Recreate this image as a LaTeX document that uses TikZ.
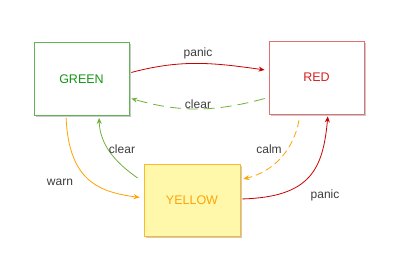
\documentclass[tikz,border=0pt]{standalone}
\usepackage{fontspec}
\setmainfont{Liberation Sans}
\usetikzlibrary{arrows.meta, shadows}

\definecolor{greenline}{RGB}{100,178,88}
\definecolor{greentext}{RGB}{20,150,20}
\definecolor{greenarrow}{RGB}{112,176,60}
\definecolor{redline}{RGB}{226,112,112}
\definecolor{redtext}{RGB}{214,32,32}
\definecolor{redarrow}{RGB}{200,0,0}
\definecolor{yellowfill}{RGB}{255,248,170}
\definecolor{yellowline}{RGB}{250,186,44}
\definecolor{orangetext}{RGB}{252,165,10}
\definecolor{orangearrow}{RGB}{255,162,0}
\definecolor{labelgray}{RGB}{60,60,60}

\begin{document}
\begin{tikzpicture}[
    x=1pt, y=1pt,
    state/.style={rectangle, draw, line width=0.8pt, minimum width=95pt, minimum height=73pt,
        font=\fontsize{12.5}{14}\selectfont,
        drop shadow={shadow xshift=2pt, shadow yshift=-2pt, fill=black!35, opacity=0.6}},
    trans/.style={line width=0.8pt, -{Stealth[length=6pt, width=5pt]}},
    translabel/.style={font=\fontsize{12}{14}\selectfont, text=labelgray}
]
    \useasboundingbox (0,0) rectangle (400,275);

    % --- States ---
    \node[state, draw=greenline, fill=white, text=greentext] (green) at (81.5,196) {GREEN};
    \node[state, draw=redline, fill=white, text=redtext] (red) at (316.5,197.5) {RED};
    \node[state, draw=yellowline, fill=yellowfill, text=orangetext, minimum width=96pt, minimum height=72pt] (yellow) at (192,75) {YELLOW};

    % --- Transitions between GREEN and RED ---
    \draw[trans, redarrow, shorten >=4pt, shorten <=2pt]
        ([yshift=6pt]green.east) to[out=15, in=172] ([yshift=7pt]red.west);
    \draw[trans, greenarrow, dash pattern=on 11pt off 6pt, shorten >=2pt, shorten <=4pt]
        ([yshift=-20pt]red.west) to[out=195, in=-16] ([yshift=-19pt]green.east);
    \node[translabel] (lpanic1) at (198,222) {panic};
    \node[translabel] (lclear1) at (198,171) {clear};

    % --- Transitions with YELLOW ---
    \draw[trans, orangearrow, shorten >=4pt, shorten <=2pt]
        ([xshift=-15.5pt]green.south) .. controls +(3,-65) and +(-45,6) .. ([yshift=2pt]yellow.west);
    \draw[trans, greenarrow, shorten >=2pt]
        ([xshift=-6pt, yshift=22pt]yellow.west) to[out=145, in=-88] ([xshift=17.5pt]green.south);
    \draw[trans, orangearrow, dash pattern=on 7pt off 4pt, shorten <=6pt]
        ([xshift=-16.5pt]red.south) to[out=-100, in=14] ([xshift=3pt, yshift=21pt]yellow.east);
    \draw[trans, redarrow, shorten <=2pt, shorten >=2pt]
        ([yshift=1pt]yellow.east) .. controls +(70,2) and +(-5,-55) .. ([xshift=11.5pt]red.south);
    \node[translabel] (lwarn) at (60,93) {warn};
    \node[translabel] (lclear2) at (122,126) {clear};
    \node[translabel] (lcalm) at (269,126) {calm};
    \node[translabel] (lpanic2) at (325,80) {panic};

\end{tikzpicture}
\end{document}
